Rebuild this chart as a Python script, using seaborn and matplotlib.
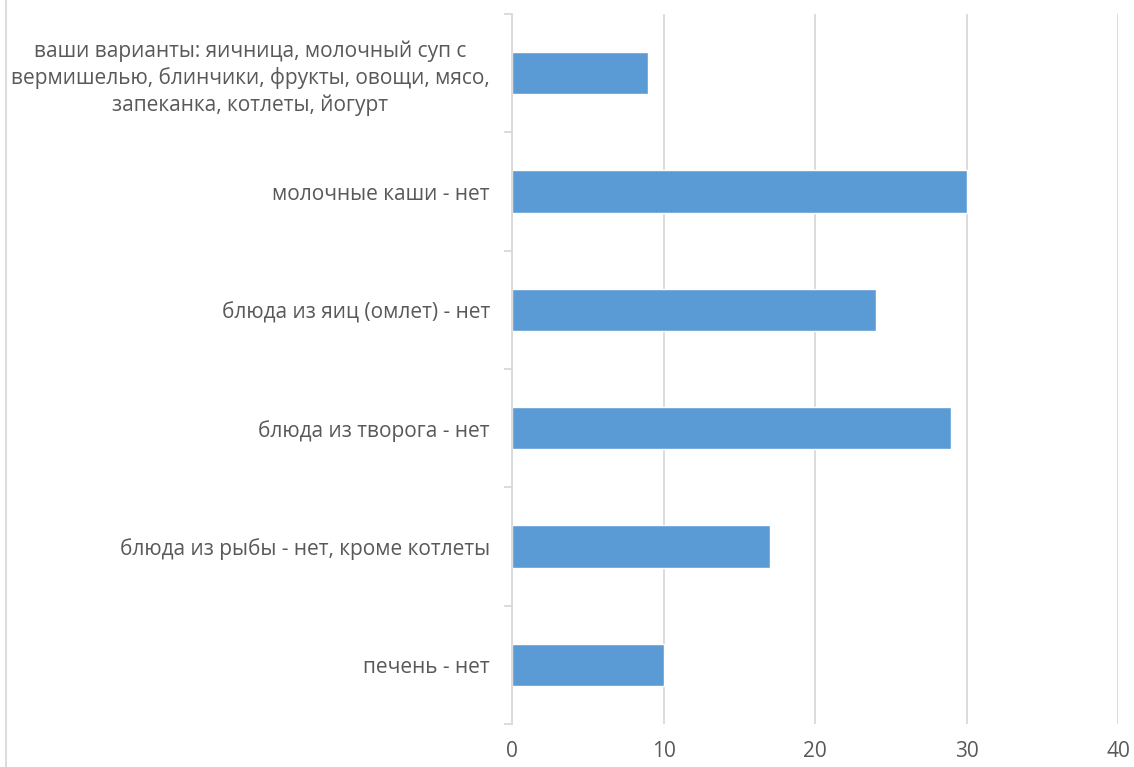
import matplotlib
matplotlib.use("Agg")
import matplotlib.pyplot as plt
import seaborn as sns
import pandas as pd
from matplotlib.lines import Line2D

# data (top to bottom)
categories = [
    "ваши варианты: яичница, молочный суп с\nвермишелью, блинчики, фрукты, овощи, мясо,\nзапеканка, котлеты, йогурт",
    "молочные каши - нет",
    "блюда из яиц (омлет) - нет",
    "блюда из творога - нет",
    "блюда из рыбы - нет, кроме котлеты",
    "печень - нет",
]
values = [9, 30, 24, 29, 17, 10]
x_ticks = [0, 10, 20, 30, 40]

df = pd.DataFrame({"category": categories, "value": values})

sns.set_style("white")
plt.rcParams["font.family"] = ["Open Sans", "DejaVu Sans"]

fig = plt.figure(figsize=(11.34, 7.67), dpi=100)
ax = fig.add_axes([512 / 1134, 1 - 724 / 767, (1118 - 512) / 1134, (724 - 14) / 767])

sns.barplot(data=df, x="value", y="category", color="#5b9bd5", width=0.355,
            saturation=1, ax=ax, zorder=3)

ax.set_xlim(0, 40)
ax.set_ylim(len(categories) - 0.5, -0.5)
ax.set_xticks(x_ticks)
ax.set_xlabel("")
ax.set_ylabel("")

# vertical gridlines
ax.grid(axis="x", color="#d9d9d9", linewidth=1.3, zorder=0)
ax.grid(axis="y", visible=False)

for side in ["top", "right", "bottom"]:
    ax.spines[side].set_visible(False)
ax.spines["left"].set_color("#d9d9d9")
ax.spines["left"].set_linewidth(1.3)
ax.spines["left"].set_zorder(4)

ax.tick_params(axis="x", length=0, pad=12, labelsize=15, labelcolor="#595959")
ax.tick_params(axis="y", which="major", length=0, pad=16, labelsize=15,
               labelcolor="#595959")
# category boundary ticks
ax.set_yticks([i - 0.5 for i in range(len(categories) + 1)], minor=True)
ax.tick_params(axis="y", which="minor", direction="out", length=6, width=1.3,
               color="#d9d9d9", left=True)

for lbl in ax.get_yticklabels():
    lbl.set_multialignment("center")
    lbl.set_linespacing(1.3)

# chart frame edge visible on the left
fig.add_artist(Line2D([6 / 1134, 6 / 1134], [0, 1], color="#d9d9d9", linewidth=1.3))

fig.savefig("out.png", dpi=100)
